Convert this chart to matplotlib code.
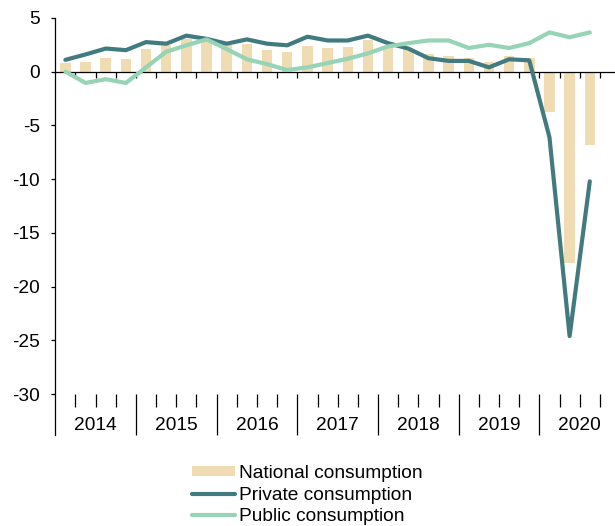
import numpy as np
import matplotlib.pyplot as plt

plt.rcParams['font.family'] = ['Liberation Sans', 'DejaVu Sans']
plt.rcParams['font.size'] = 13.8
plt.rcParams['axes.unicode_minus'] = False

years = ['2014', '2015', '2016', '2017', '2018', '2019', '2020']

# quarterly growth, 2014Q1 - 2020Q3
national = [0.8, 0.9, 1.3, 1.2,
            2.1, 2.5, 3.0, 2.9,
            2.5, 2.55, 2.05, 1.8,
            2.35, 2.2, 2.33, 2.95,
            2.4, 2.1, 1.65, 1.46,
            1.3, 0.87, 1.46, 1.3,
            -3.8, -17.8, -6.8]
private = [1.1, 1.6, 2.15, 2.0,
           2.75, 2.6, 3.35, 3.05,
           2.6, 3.0, 2.6, 2.45,
           3.25, 2.9, 2.9, 3.35,
           2.65, 2.15, 1.25, 1.0,
           1.0, 0.4, 1.15, 1.05,
           -6.1, -24.6, -10.2]
public = [0.0, -1.05, -0.7, -1.05,
          0.4, 1.85, 2.45, 3.0,
          2.1, 1.15, 0.7, 0.15,
          0.4, 0.8, 1.2, 1.7,
          2.35, 2.65, 2.9, 2.9,
          2.2, 2.5, 2.2, 2.65,
          3.65, 3.2, 3.65]

c_nat = '#EFDCB2'
c_priv = '#427B7F'
c_pub = '#97D3B6'

x = np.arange(len(national))

fig = plt.figure(figsize=(6.15, 5.26), dpi=100)
ax = fig.add_axes([55.3 / 615, 91 / 526, (615 - 55.3) / 615, (508.1 - 91) / 526])

b = ax.bar(x, national, width=0.52, color=c_nat, zorder=1, label='National consumption')
l1, = ax.plot(x, private, color=c_priv, lw=3.0, solid_capstyle='round',
              solid_joinstyle='round', zorder=3, label='Private consumption')
l2, = ax.plot(x, public, color=c_pub, lw=3.0, solid_capstyle='round',
              solid_joinstyle='round', zorder=4, label='Public consumption')

ax.set_xlim(-0.5, 27.25)
ax.set_ylim(-33.8, 5)
ax.set_yticks(np.arange(-30, 6, 5))

for s in ['top', 'right']:
    ax.spines[s].set_visible(False)
ax.spines['bottom'].set_position(('data', 0))
ax.spines['bottom'].set_zorder(2.5)
ax.spines['left'].set_linewidth(0.9)
ax.spines['bottom'].set_linewidth(0.9)

ax.tick_params(axis='y', length=3.2, width=0.9, pad=8)
ax.set_xticks(np.arange(0.5, 27, 1))
ax.tick_params(axis='x', length=4.3, width=0.9, labelbottom=False)

# category axis at the bottom
bounds = np.arange(0.5, 27, 1)
year_bounds = [v for v in bounds if (v + 0.5) % 4 == 0]
quarter_bounds = [v for v in bounds if (v + 0.5) % 4 != 0]

sec = ax.secondary_xaxis(-30, transform=ax.transData)
sec.spines['bottom'].set_visible(False)
sec.set_xticks(year_bounds)
sec.set_xticks(quarter_bounds, minor=True)
sec.tick_params(which='major', length=29.5, width=0.9, labelbottom=False)
sec.tick_params(which='minor', length=9.4, width=0.9)

lab = ax.secondary_xaxis(-30, transform=ax.transData)
lab.spines['bottom'].set_visible(False)
lab.set_xticks(np.arange(1.5, 28, 4), years)
lab.tick_params(length=0, pad=16.6)

fig.legend([b, l1, l2], ['National consumption', 'Private consumption', 'Public consumption'],
           loc='upper left', bbox_to_anchor=(191.7 / 615, (526 - 465) / 526),
           frameon=False, borderpad=0, borderaxespad=0, labelspacing=0.24,
           handlelength=2.24, handleheight=0.47, handletextpad=0.25)

fig.savefig('out.png', dpi=100)
